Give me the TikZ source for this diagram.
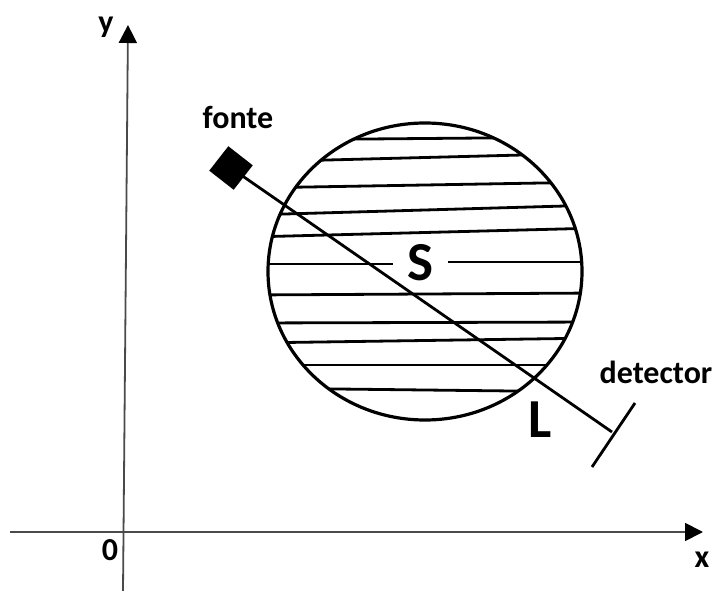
\documentclass[tikz,border=0pt]{standalone}
\usepackage{fontspec}
\setmainfont{Carlito}
\usepackage{xcolor}
\usetikzlibrary{arrows.meta,positioning}
\definecolor{Ink}{HTML}{000000}
\definecolor{Axis}{HTML}{4A4A4A}
\tikzset{
  lbl/.style={font=\fontsize{32}{36}\selectfont\bfseries,Ink,inner sep=0pt},
  big/.style={font=\fontsize{55}{60}\selectfont\bfseries,Ink,inner sep=0pt},
  axisline/.style={Axis,line width=1.8pt,-{Triangle[length=18pt,width=18pt,color=Ink]}},
  hatch/.style={Ink,line width=2.8pt},
}
\begin{document}
\begin{tikzpicture}[x=1pt,y=-1pt]
  \useasboundingbox (0,0) rectangle (713,591);
  % axes
  \coordinate (xa0) at (10,532);
  \coordinate (xa1) at (703,532);
  \coordinate (ya0) at (123,591);
  \coordinate (ya1) at (128,25);
  \draw[axisline] (xa0) -- (xa1);
  \draw[axisline] (ya0) -- (ya1);
  \node[lbl] (ylab) at (106,27) {y};
  \node[lbl] (xlab) at (702,560) {x};
  \node[lbl] (orig) at (110,550) {0};
  % region S
  \def\cx{425}\def\cy{271.5}
  \begin{scope}
    \clip (\cx,\cy) ellipse [x radius=157,y radius=148.5];
    \foreach \ya/\yb in {140/137, 162/153, 188/182, 215/205, 237/228,
                         295/293, 323/322, 343/338, 365/365, 388/392} {
      \draw[hatch] (250,\ya) -- (600,\yb);
    }
    \draw[hatch] (250,264) -- (393,264);
    \draw[hatch] (448,262) -- (600,262);
  \end{scope}
  \node[big] (S) at (420,263) {S};
  \draw[Ink,line width=3.2pt] (\cx,\cy) ellipse [x radius=157,y radius=148.5];
  % source and detector
  \node[fill=Ink,rectangle,minimum size=31pt,inner sep=0pt,rotate=-38] (fonte) at (231,168) {};
  \node[lbl] (fontelab) at (238,118) {fonte};
  \coordinate (det) at (612,432);
  \coordinate (det1) at (635,403);
  \coordinate (det2) at (592,467);
  \draw[Ink,line width=2.8pt] (fonte.center) -- (det);
  \draw[Ink,line width=2.8pt] (det1) -- (det2);
  \node[lbl] (detlab) at (656,372) {detector};
  \node[big] (L) at (540,420) {L};
\end{tikzpicture}
\end{document}
